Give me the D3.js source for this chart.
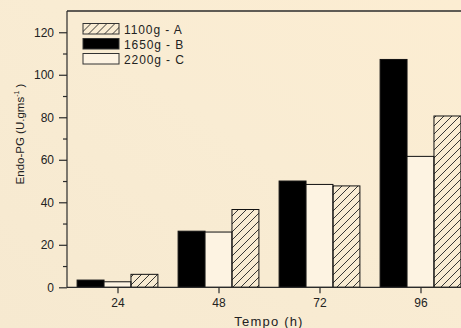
<!DOCTYPE html>
<html>
<head>
<meta charset="utf-8">
<script src="https://cdn.jsdelivr.net/npm/d3@7"></script>
<style>
  body { margin: 0; background: #f8ebd2; }
  svg { display: block; font-family: "Liberation Sans", Arial, sans-serif; }
</style>
</head>
<body>
<div id="chart"></div>
<script>
// Data
const hours = [24, 48, 72, 96];
const seriesB = [3.4, 26.4, 50.0, 107.2];   // 1650g - B (black)
const seriesC = [2.6, 26.0, 48.4, 61.6];    // 2200g - C (white)
const seriesA = [6.1, 36.6, 47.7, 80.6];    // 1100g - A (hatched)
const yTicks = [0, 20, 40, 60, 80, 100, 120];

const width = 461, height = 328;
const margin = {top: 11, left: 67, bottom: 41};

const svg = d3.select('#chart')
    .append('svg')
    .attr('width', width)
    .attr('height', height);

// background with a faint diagonal sheen
const defs = svg.append('defs');
const grad = defs.append('linearGradient')
    .attr('id', 'bg')
    .attr('x1', '0').attr('y1', '1').attr('x2', '1').attr('y2', '0');
grad.append('stop').attr('offset', '0%').attr('stop-color', '#f6e9d0');
grad.append('stop').attr('offset', '55%').attr('stop-color', '#f9ecd3');
grad.append('stop').attr('offset', '100%').attr('stop-color', '#fcedd2');
svg.append('rect').attr('width', width).attr('height', height).attr('fill', 'url(#bg)');

const hatch = defs.append('pattern')
    .attr('id', 'hatch')
    .attr('patternUnits', 'userSpaceOnUse')
    .attr('width', 8).attr('height', 8);
hatch.append('path')
    .attr('d', 'M-2,2 L2,-2 M0,8 L8,0 M6,10 L10,6')
    .attr('stroke', '#222')
    .attr('stroke-width', 0.9);

// scales (x domain runs past the right edge, the original is cropped)
const x = d3.scaleLinear().domain([12, 108]).range([margin.left, 471]);
const y = d3.scaleLinear().domain([0, 130]).range([287.3, margin.top]);

const barW = 6.4; // hours

const series = [
    {name: '1650g - B', values: seriesB, fill: '#000', offset: -1},
    {name: '2200g - C', values: seriesC, fill: '#fdf3e2', offset: 0},
    {name: '1100g - A', values: seriesA, fill: 'url(#hatch)', offset: 1}
];

series.forEach(s => {
    svg.append('g').selectAll('rect')
        .data(s.values)
        .enter().append('rect')
        .attr('x', (d, i) => x(hours[i] + s.offset * barW - barW / 2))
        .attr('width', (d, i) => x(hours[i] + barW / 2) - x(hours[i] - barW / 2))
        .attr('y', d => y(d))
        .attr('height', d => y(0) - y(d))
        .attr('fill', s.fill)
        .attr('stroke', '#111')
        .attr('stroke-width', 1);
});

// axes
const axisColor = '#2b2b2b';
const yAxis = svg.append('g')
    .attr('transform', `translate(${margin.left},0)`)
    .call(d3.axisLeft(y).tickValues(yTicks).tickSize(8).tickPadding(5));
svg.append('g')
    .attr('transform', `translate(${margin.left},0)`)
    .call(d3.axisLeft(y).tickValues(d3.range(10, 130, 20)).tickSize(4).tickFormat(''))
    .select('.domain').remove();

const xAxis = svg.append('g')
    .attr('transform', `translate(0,${y(0)})`)
    .call(d3.axisBottom(x).tickValues(hours).tickSize(6).tickPadding(5));

[yAxis, xAxis].forEach(a => {
    a.selectAll('text').attr('font-size', 12).attr('fill', '#222')
        .attr('font-family', '"Liberation Sans", Arial, sans-serif');
});
svg.selectAll('.domain, .tick line').attr('stroke', axisColor).attr('stroke-width', 1.2);
xAxis.select('.domain').attr('d', `M${margin.left},0H${width}`);
yAxis.select('.domain').attr('d', `M0,${y(0)}V${margin.top}`);

// top frame line
svg.append('line')
    .attr('x1', margin.left).attr('x2', width)
    .attr('y1', margin.top).attr('y2', margin.top)
    .attr('stroke', axisColor).attr('stroke-width', 1.5);

// axis titles
svg.append('text')
    .attr('x', 269)
    .attr('y', 326)
    .attr('text-anchor', 'middle')
    .attr('font-size', 13)
    .attr('letter-spacing', 1.2)
    .attr('fill', '#222')
    .text('Tempo (h)');

const yt = svg.append('text')
    .attr('transform', 'translate(24,134) rotate(-90)')
    .attr('text-anchor', 'middle')
    .attr('font-size', 11.5)
    .attr('fill', '#222');
yt.append('tspan').text('Endo-PG (U.gms');
yt.append('tspan').attr('dy', -5).attr('font-size', 7).text('-1');
yt.append('tspan').attr('dy', 5).text(' )');

// legend
const legendItems = [series[2], series[0], series[1]];
const legend = svg.selectAll('.legend')
    .data(legendItems)
    .enter().append('g')
    .attr('transform', (d, i) => `translate(83,${23.5 + i * 15})`);

legend.append('rect')
    .attr('width', 36)
    .attr('height', 10.5)
    .attr('fill', d => d.fill)
    .attr('stroke', '#333')
    .attr('stroke-width', 1);

legend.append('text')
    .attr('x', 41)
    .attr('y', 10)
    .attr('font-size', 12)
    .attr('letter-spacing', 0.9)
    .attr('fill', '#222')
    .text(d => d.name);
</script>
</body>
</html>
